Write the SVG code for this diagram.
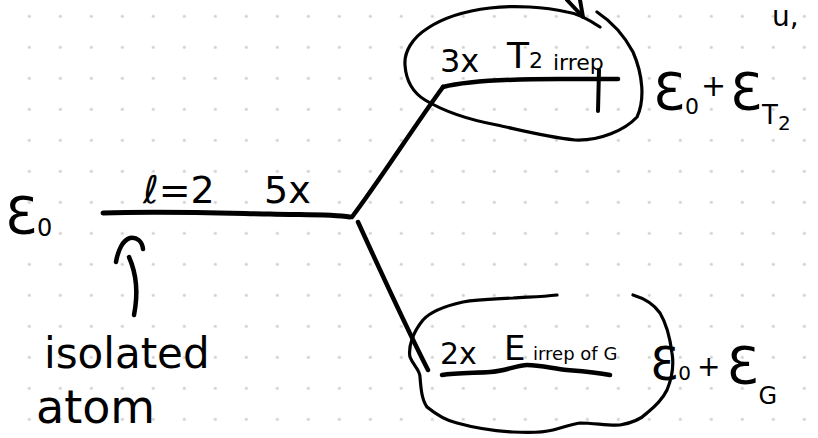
<svg xmlns="http://www.w3.org/2000/svg" width="818" height="438" viewBox="0 0 818 438">
<style>
.ink{fill:none;stroke:#000;stroke-linecap:round;stroke-linejoin:round}
.lvl{stroke-width:5}
.br{stroke-width:4.5}
.ring{stroke-width:3.2}
.t{font-family:"DejaVu Sans","Liberation Sans",sans-serif;fill:#000}
</style>
<defs>
<pattern id="grid" x="13.8" y="0.8" width="31" height="31" patternUnits="userSpaceOnUse">
<circle cx="15.5" cy="15.5" r="1.6" fill="#d2d2d2"/>
</pattern>
</defs>
<rect width="818" height="438" fill="#fff"/>
<rect width="818" height="438" fill="url(#grid)"/>

<g id="connectors">
<path class="ink br" d="M352 217 C380 180 415 125 443 87"/>
<path class="ink br" d="M358 222 C380 270 405 325 428 370"/>
<path class="ink br" d="M134 315 C138 295 137 275 129 257"/>
<path class="ink br" d="M116 262 C118 250 123 240 130 238 C137 237 142 241 143 249"/>
<path class="ink" stroke-width="4" d="M567 0 L583 17 M580 0 L583 17"/>
</g>

<g id="isolated-level">
<path class="ink lvl" d="M103 213 C160 211 220 213 270 214 C300 215 330 214 350 217"/>
<text class="t" x="5" y="234" font-size="52">Ɛ<tspan font-size="24" dy="2">0</tspan></text>
<text class="t" x="143" y="203" font-size="38">ℓ=2</text>
<text class="t" x="264" y="203" font-size="38">5x</text>
<text class="t" x="44" y="368" font-size="42">isolated</text>
<text class="t" x="36" y="423" font-size="46">atom</text>
</g>

<g id="t2-level">
<path class="ink ring" d="M600 27 C585 17 575 13 567 12 C545 7 515 5 490 8 C465 11 443 18 428 28 C412 38 404 52 405 65 C406 80 412 92 425 100 C445 112 470 120 497 125 C520 130 545 137 575 140 C600 141 625 130 637 117 C645 100 643 75 633 52 C624 35 612 22 597 12"/>
<path class="ink br" d="M443 87 C470 80 520 79 560 79 C585 79 605 79 618 79"/>
<path class="ink" stroke-width="4" d="M599 70 L598 111"/>
<text class="t" x="440" y="72" font-size="32">3x</text>
<text class="t" x="507" y="68" font-size="36">T<tspan font-size="22" dy="0">2</tspan></text>
<text class="t" x="553" y="70" font-size="22">irrep</text>
<text class="t" x="653" y="110" font-size="52">Ɛ<tspan font-size="22" dy="4">0</tspan><tspan font-size="30" dy="-18" dx="2">+</tspan><tspan dy="14" dx="4">Ɛ</tspan><tspan font-size="26" dy="14">T</tspan><tspan font-size="20" dy="6">2</tspan></text>
<text class="t" x="772" y="26" font-size="28">u,</text>
</g>

<g id="e-level">
<path class="ink ring" d="M557 295 C540 297 525 297 513 298 C495 299 478 299 463 302 C445 306 430 312 423 320 C413 332 408 347 410 357 C413 365 420 370 420 377 C421 390 422 400 427 407 C438 416 448 421 457 423 C475 428 495 431 513 432 C530 433 545 432 553 430 C565 427 572 424 580 423 C595 423 608 426 620 425 C632 423 642 418 647 413 C657 405 663 398 667 390 C672 378 674 365 672 353 C670 338 666 323 660 313 C653 303 643 298 633 295"/>
<path class="ink br" d="M442 375 C455 373 475 373 490 372 C505 371 518 365 527 365 C540 365 555 369 567 370 C580 371 595 372 610 375"/>
<text class="t" x="440" y="364" font-size="30">2x</text>
<text class="t" x="504" y="360" font-size="34">E</text>
<text class="t" x="533" y="360" font-size="18">irrep of G</text>
<text class="t" x="650" y="380" font-size="46">Ɛ<tspan font-size="20" dy="0">0</tspan><tspan font-size="28" dx="6" dy="-4">+</tspan><tspan font-size="52" dx="6" dy="8">Ɛ</tspan><tspan font-size="24" dy="20">G</tspan></text>
</g>
</svg>
